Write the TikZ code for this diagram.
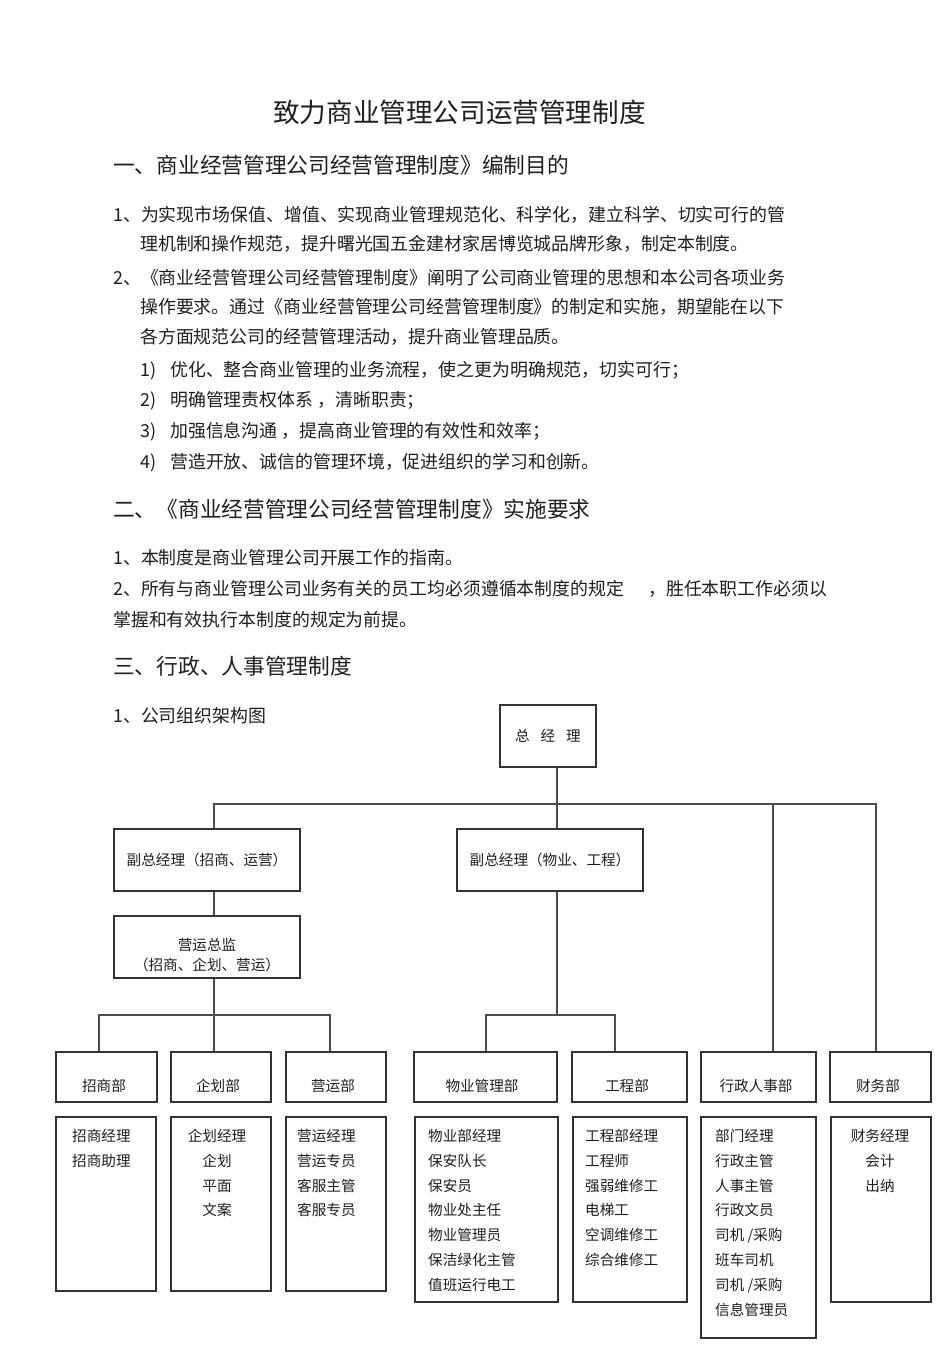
\documentclass[tikz,border=0pt]{standalone}
\usepackage{fontspec}
\setmainfont{Noto Sans CJK SC}
\tikzset{
  mybase/.style={inner sep=0pt, text=black!88},
  myttl/.style={mybase, font=\fontsize{26.6}{30}\selectfont, text height=23.4pt, text depth=3.2pt},
  myhd/.style={mybase, anchor=west, font=\fontsize{21.7}{26}\selectfont, text height=19.1pt, text depth=2.6pt},
  mybd/.style={mybase, anchor=west, font=\fontsize{17.9}{22}\selectfont, text height=15.75pt, text depth=2.15pt},
  mysm/.style={mybase, font=\fontsize{14.6}{18}\selectfont, text height=12.85pt, text depth=1.75pt},
  mysml/.style={mysm, anchor=west},
  mybox/.style={draw=black!80, line width=1.1pt, inner sep=0pt, fill=white},
  myconn/.style={draw=black!70, line width=1.1pt},
}
\begin{document}
\begin{tikzpicture}[x=1pt,y=-1pt]
\useasboundingbox (0,0) rectangle (950,1345);
\fill[white] (0,0) rectangle (950,1345);

% ---------- text ----------
\node[myttl] (title) at (459.5,112) {致力商业管理公司运营管理制度};
\node[myhd] (h1) at (113,165) {一、商业经营管理公司经营管理制度》编制目的};
\node[mybd] (p1a) at (113,215) {1、为实现市场保值、增值、实现商业管理规范化、科学化，建立科学、切实可行的管};
\node[mybd] (p1b) at (140,244) {理机制和操作规范，提升曙光国五金建材家居博览城品牌形象，制定本制度。};
\node[mybd] (p2a) at (113,278) {2、《商业经营管理公司经营管理制度》阐明了公司商业管理的思想和本公司各项业务};
\node[mybd] (p2b) at (140,307) {操作要求。通过《商业经营管理公司经营管理制度》的制定和实施，期望能在以下};
\node[mybd] (p2c) at (140,337) {各方面规范公司的经营管理活动，提升商业管理品质。};
\node[mybd] (i1n) at (140,370) {1)};
\node[mybd] (i1t) at (170,370) {优化、整合商业管理的业务流程，使之更为明确规范，切实可行；};
\node[mybd] (i2n) at (140,400) {2)};
\node[mybd] (i2t) at (170,400) {明确管理责权体系 ，清晰职责；};
\node[mybd] (i3n) at (140,431) {3)};
\node[mybd] (i3t) at (170,431) {加强信息沟通 ，提高商业管理的有效性和效率；};
\node[mybd] (i4n) at (140,462) {4)};
\node[mybd] (i4t) at (170,462) {营造开放、诚信的管理环境，促进组织的学习和创新。};

\node[myhd] (h2) at (113,509) {二、《商业经营管理公司经营管理制度》实施要求};
\node[mybd] (q1) at (113,558) {1、本制度是商业管理公司开展工作的指南。};
\node[mybd] (q2a) at (113,589) {2、所有与商业管理公司业务有关的员工均必须遵循本制度的规定};
\node[mybd] (q2b) at (648,589) {，胜任本职工作必须以};
\node[mybd] (q2c) at (113,620) {掌握和有效执行本制度的规定为前提。};

\node[myhd] (h3) at (113,666) {三、行政、人事管理制度};
\node[mybd] (r1) at (113,716) {1、公司组织架构图};

% ---------- org chart: boxes ----------
\node[mybox, mysm, minimum width=96pt, minimum height=62pt] (gm) at (548,736) {总\hspace{0.75em}经\hspace{0.75em}理};
\node[mybox, mysm, minimum width=186pt, minimum height=62pt] (vp1) at (207,860) {副总经理（招商、运营）};
\node[mybox, mysm, minimum width=186pt, minimum height=62pt] (vp2) at (550,860) {副总经理（物业、工程）};
\node[mybox, minimum width=186pt, minimum height=62pt] (dir) at (207,947) {};
\node[mysm] (dirt1) at (207,945) {营运总监};
\node[mysm] (dirt2) at (207,965) {（招商、企划、营运）};

% departments (y 1052-1102)
\node[mybox, minimum width=101pt, minimum height=50pt] (d1) at (106.5,1077) {};
\node[mybox, minimum width=100pt, minimum height=50pt] (d2) at (221,1077) {};
\node[mybox, minimum width=100pt, minimum height=50pt] (d3) at (336,1077) {};
\node[mybox, minimum width=143pt, minimum height=50pt] (d4) at (485.5,1077) {};
\node[mybox, minimum width=115pt, minimum height=50pt] (d5) at (629.5,1077) {};
\node[mybox, minimum width=115pt, minimum height=50pt] (d6) at (758.5,1077) {};
\node[mybox, minimum width=101pt, minimum height=50pt] (d7) at (880.5,1077) {};
\node[mysm] (d1t) at (104,1086) {招商部};
\node[mysm] (d2t) at (218,1086) {企划部};
\node[mysm] (d3t) at (333,1086) {营运部};
\node[mysm] (d4t) at (482,1086) {物业管理部};
\node[mysm] (d5t) at (627,1086) {工程部};
\node[mysm] (d6t) at (756,1086) {行政人事部};
\node[mysm] (d7t) at (878,1086) {财务部};

% staff boxes (top 1117)
\node[mybox, minimum width=100pt, minimum height=174pt] (s1) at (106,1204) {};
\node[mybox, minimum width=100pt, minimum height=174pt] (s2) at (221,1204) {};
\node[mybox, minimum width=100pt, minimum height=174pt] (s3) at (336,1204) {};
\node[mybox, minimum width=143pt, minimum height=185pt] (s4) at (486.5,1209.5) {};
\node[mybox, minimum width=114pt, minimum height=185pt] (s5) at (630,1209.5) {};
\node[mybox, minimum width=115pt, minimum height=221pt] (s6) at (758.5,1227.5) {};
\node[mybox, minimum width=100pt, minimum height=185pt] (s7) at (881,1209.5) {};

\foreach \t [count=\i] in {招商经理,招商助理}
  \node[mysml] (s1-\i) at (72,{1136+(\i-1)*24.8}) {\t};
\foreach \t [count=\i] in {企划经理,企划,平面,文案}
  \node[mysm] (s2-\i) at (217,{1136+(\i-1)*24.8}) {\t};
\foreach \t [count=\i] in {营运经理,营运专员,客服主管,客服专员}
  \node[mysml] (s3-\i) at (297,{1136+(\i-1)*24.8}) {\t};
\foreach \t [count=\i] in {物业部经理,保安队长,保安员,物业处主任,物业管理员,保洁绿化主管,值班运行电工}
  \node[mysml] (s4-\i) at (428,{1136+(\i-1)*24.8}) {\t};
\foreach \t [count=\i] in {工程部经理,工程师,强弱维修工,电梯工,空调维修工,综合维修工}
  \node[mysml] (s5-\i) at (585,{1136+(\i-1)*24.8}) {\t};
\foreach \t [count=\i] in {部门经理,行政主管,人事主管,行政文员,司机 /采购,班车司机,司机 /采购,信息管理员}
  \node[mysml] (s6-\i) at (715,{1136+(\i-1)*24.8}) {\t};
\foreach \t [count=\i] in {财务经理,会计,出纳}
  \node[mysm] (s7-\i) at (880,{1136+(\i-1)*24.8}) {\t};

% ---------- connectors ----------
\coordinate (bus) at (557,804);
\coordinate (b1) at (214,804);
\coordinate (b6) at (773,804);
\coordinate (b7) at (876,804);
\coordinate (j1) at (214,1015);
\coordinate (c1) at (99,1015);
\coordinate (c3) at (330,1015);
\coordinate (j2) at (557,1015);
\coordinate (c4) at (486,1015);
\coordinate (c5) at (615,1015);

\draw[myconn] (gm.south -| bus) -- (bus) -- (vp2.north -| bus);
\draw[myconn] (vp1.north -| b1) -- (b1) -- (b7) -- (d7.north -| b7);
\draw[myconn] (b6) -- (d6.north -| b6);
\draw[myconn] (vp1.south -| b1) -- (dir.north -| b1);
\draw[myconn] (dir.south -| j1) -- (j1) -- (d2.north -| j1);
\draw[myconn] (d1.north -| c1) -- (c1) -- (c3) -- (d3.north -| c3);
\draw[myconn] (vp2.south -| j2) -- (j2);
\draw[myconn] (d4.north -| c4) -- (c4) -- (c5) -- (d5.north -| c5);
\end{tikzpicture}
\end{document}
